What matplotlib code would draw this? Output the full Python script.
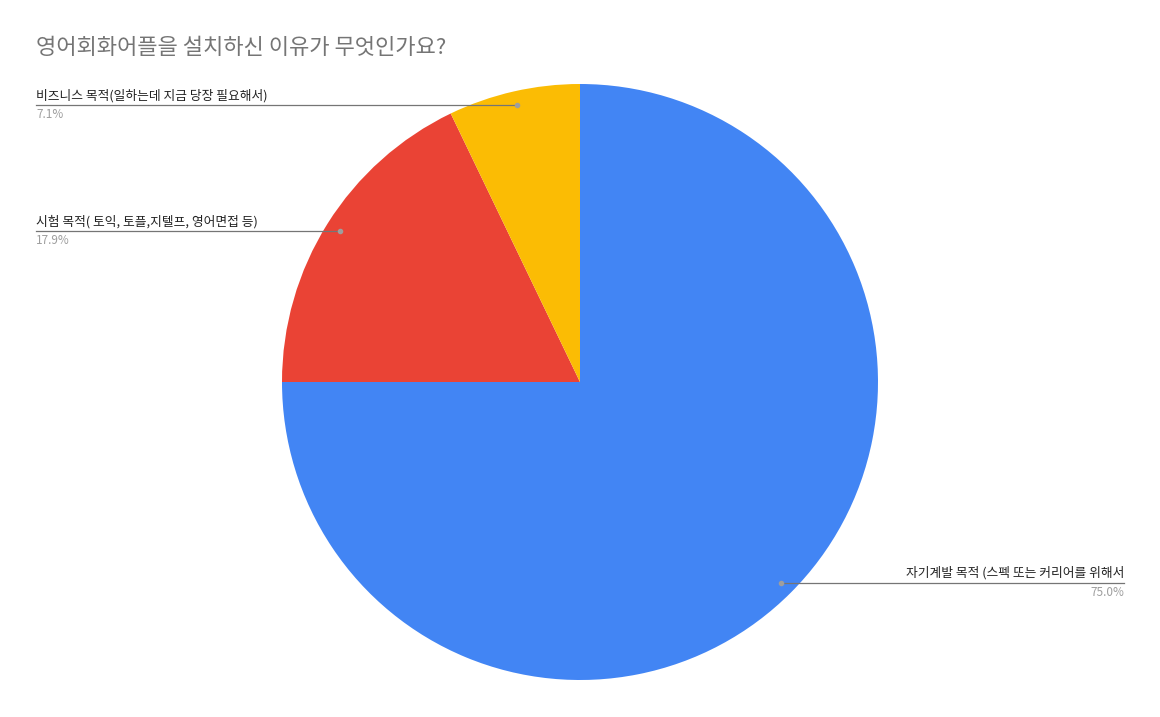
import matplotlib
matplotlib.use('Agg')
import matplotlib.pyplot as plt
import numpy as np

plt.rcParams['font.family'] = ['Noto Sans CJK KR', 'DejaVu Sans']

# data ================================================
labels = ['자기계발 목적 (스펙 또는 커리어를 위해서',
          '시험 목적( 토익, 토플,지텔프, 영어면접 등)',
          '비즈니스 목적(일하는데 지금 당장 필요해서)']
counts = [21, 5, 2]
colors = ['#4285F4', '#EA4335', '#FBBC04']
title = '영어회화어플을 설치하신 이유가 무엇인가요?'
# ======================================================

W, H = 1160, 717
fig = plt.figure(figsize=(W / 100, H / 100), dpi=100)
cx, cy, r = 580, H - 382, 298
ax = fig.add_axes([(cx - r) / W, (cy - r) / H, 2 * r / W, 2 * r / H])
wedges, _ = ax.pie(counts, colors=colors, startangle=90, counterclock=False,
                   radius=1, wedgeprops=dict(linewidth=0))
ax.set_xlim(-1, 1)
ax.set_ylim(-1, 1)
ax.set_aspect('equal')
ax.axis('off')

fig.text(36 / W, (H - 48) / H, title, fontsize=15.9, color='#757575',
         va='center', ha='left', fontweight='medium')

total = sum(counts)
for w, lab, n in zip(wedges, labels, counts):
    mid = np.deg2rad((w.theta1 + w.theta2) / 2)
    px = cx + 0.952 * r * np.cos(mid)
    py = cy + 0.952 * r * np.sin(mid)
    pct = f'{100 * n / total:.1f}%'
    if np.cos(mid) < 0:
        x_end, ha = 36, 'left'
    else:
        x_end, ha = 1124, 'right'
    fig.add_artist(plt.Line2D([px / W, x_end / W], [py / H, py / H],
                              transform=fig.transFigure, color='#757575', lw=0.9))
    fig.add_artist(plt.Line2D([px / W], [py / H], transform=fig.transFigure,
                              marker='o', markersize=3, color='#9e9e9e', lw=0))
    fig.text(x_end / W, (py + 3) / H, lab, fontsize=9.2, color='#222222',
             ha=ha, va='bottom')
    fig.text(x_end / W, (py - 3) / H, pct, fontsize=8.5, color='#9e9e9e',
             ha=ha, va='top')

fig.savefig('out.png', dpi=100, facecolor='white')
